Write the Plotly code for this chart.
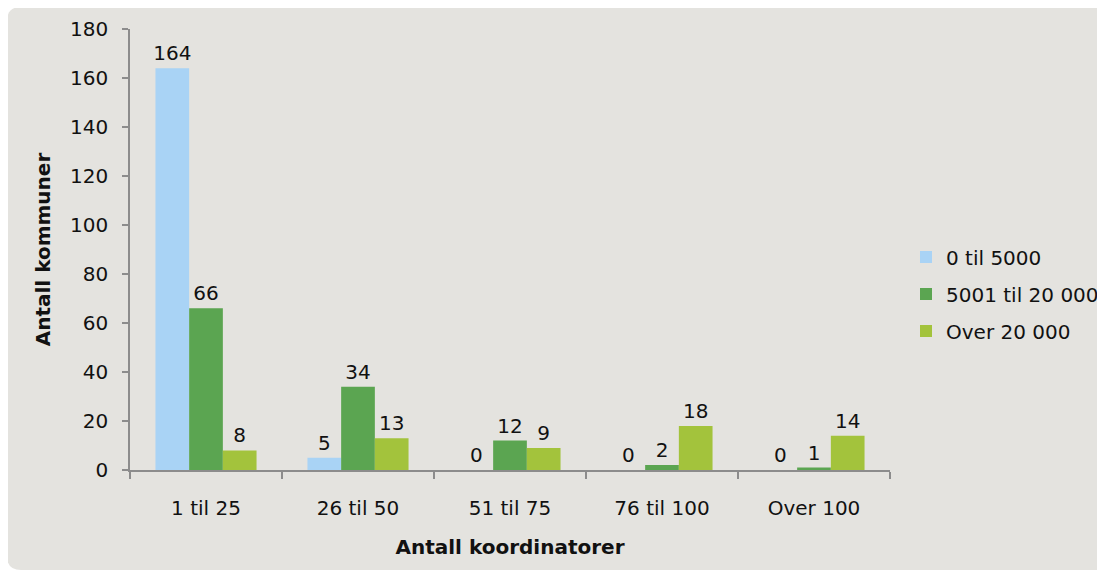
import plotly.graph_objects as go

categories = ["1 til 25", "26 til 50", "51 til 75", "76 til 100", "Over 100"]
series_names = ["0 til 5000", "5001 til 20 000", "Over 20 000"]
values_small = [164, 5, 0, 0, 0]
values_mid = [66, 34, 12, 2, 1]
values_large = [8, 13, 9, 18, 14]
colors = ["#A9D3F5", "#5BA551", "#A3C33C"]

W, H = 1105, 571
ML, MR, MT, MB = 122, 223, 21, 109
PW, PH = W - ML - MR, H - MT - MB

FONT = "DejaVu Sans"
FS = 20

fig = go.Figure()
for i, (name, vals, col) in enumerate(zip(series_names, [values_small, values_mid, values_large], colors)):
    fig.add_trace(go.Bar(
        x=categories, y=vals, name=name, legendgroup=f"g{i}",
        marker=dict(color=col, line=dict(width=0)),
        text=[str(v) for v in vals], textposition="outside", cliponaxis=False,
        constraintext="none", textfont=dict(family=FONT, size=FS, color="#111111"),
    ))

def px2x(p):
    return (p - ML) / PW

def py2y(p):
    return (H - MB - p) / PH

# rounded background panel (figure pixel coords)
x0, y0, x1, y1, r = -1, -1, 1200, 562, 14
path = (
    f"M {px2x(x0 + r)} {py2y(y0)} L {px2x(x1)} {py2y(y0)} L {px2x(x1)} {py2y(y1)} "
    f"L {px2x(x0 + r)} {py2y(y1)} Q {px2x(x0)} {py2y(y1)} {px2x(x0)} {py2y(y1 - r)} "
    f"L {px2x(x0)} {py2y(y0 + r)} Q {px2x(x0)} {py2y(y0)} {px2x(x0 + r)} {py2y(y0)} Z"
)
fig.add_shape(type="path", path=path, xref="paper", yref="paper",
              fillcolor="#E4E3DF", line=dict(width=0), layer="below")

fig.update_layout(
    width=W, height=H,
    margin=dict(l=ML, r=MR, t=MT, b=MB, autoexpand=False),
    paper_bgcolor="white", plot_bgcolor="rgba(0,0,0,0)",
    barmode="group", bargap=0.335, bargroupgap=0,
    font=dict(family=FONT, size=FS, color="#111111"),
    showlegend=True,
    legend=dict(x=px2x(898), y=py2y(286), xanchor="left", yanchor="middle",
                bgcolor="rgba(0,0,0,0)", font=dict(family=FONT, size=FS),
                itemwidth=30, tracegroupgap=8),
    xaxis=dict(
        showline=True, linecolor="#8C8C8C", linewidth=1.5,
        ticks="outside", ticklen=7, tickcolor="#8C8C8C", tickwidth=1.5,
        tickson="boundaries", ticklabelstandoff=19,
        showgrid=False, zeroline=False,
        tickfont=dict(family=FONT, size=FS),
        title=dict(text="<b>Antall koordinatorer</b>", font=dict(family=FONT, size=FS), standoff=21),
    ),
    yaxis=dict(
        range=[0, 180], dtick=20, showline=True, linecolor="#8C8C8C", linewidth=1.5,
        ticks="outside", ticklen=6, tickcolor="#8C8C8C", tickwidth=1.5,
        ticklabelstandoff=10,
        showgrid=False, zeroline=False,
        tickfont=dict(family=FONT, size=FS),
        title=dict(text="<b>Antall kommuner</b>", font=dict(family=FONT, size=FS), standoff=14),
    ),
)

fig.write_html("out.html")
